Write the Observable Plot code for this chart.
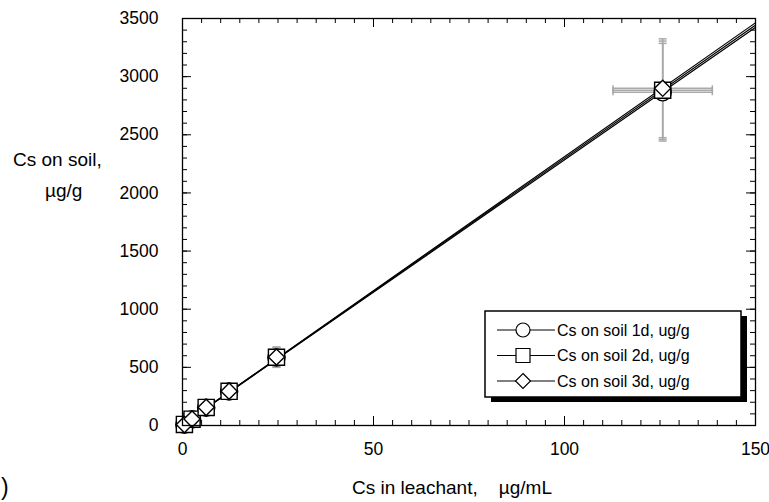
<!DOCTYPE html>
<html>
<head>
<meta charset="utf-8">
<script src="https://cdn.jsdelivr.net/npm/d3@7"></script>
<script src="https://cdn.jsdelivr.net/npm/@observablehq/plot@0.6"></script>
<style>
  html, body { margin: 0; padding: 0; background: #fff; }
  #chart { position: relative; width: 769px; height: 502px; overflow: hidden;
           font-family: "Liberation Sans", Arial, sans-serif; color: #000; }
  #chart svg { display: block; }
  .title { position: absolute; white-space: pre; font-size: 19px; line-height: 1; }
</style>
</head>
<body>
<div id="chart"></div>
<script>
// Cs sorption isotherms: Cs left in the leachant (µg/mL) vs Cs on soil (µg/g)
const seriesNames = ["Cs on soil 1d, ug/g", "Cs on soil 2d, ug/g", "Cs on soil 3d, ug/g"];
const seriesSymbols = ["circle", "square", "diamond2"];

const leachant1 = [0.5, 2.5, 6.2, 12.2, 24.6, 125.7];
const leachant2 = [0.5, 2.5, 6.2, 12.2, 24.6, 125.7];
const leachant3 = [0.5, 2.5, 6.2, 12.2, 24.6, 125.7];

const soil1 = [7, 53, 153, 292, 585, 2866];
const soil2 = [9, 54, 155, 294, 587, 2883];
const soil3 = [8, 55, 156, 295, 589, 2900];

// standard deviations (0 = bar hidden under the marker)
const leachantErr1 = [0, 0, 0, 0, 0, 13];
const leachantErr2 = [0, 0, 0, 0, 0, 13];
const leachantErr3 = [0, 0, 0, 0, 0, 13];
const soilErr1 = [0, 0, 0, 0, 85, 420];
const soilErr2 = [0, 0, 0, 0, 85, 423];
const soilErr3 = [0, 0, 0, 0, 85, 425];

const xDomain = [0, 150];
const yDomain = [0, 3500];
const xTickLabels = [0, 50, 100, 150];
const yTickLabels = [0, 500, 1000, 1500, 2000, 2500, 3000, 3500];
const xMinorStep = 5;
const yMinorStep = 100;

// ---- build tables
const leachant = [leachant1, leachant2, leachant3];
const soil = [soil1, soil2, soil3];
const leachantErr = [leachantErr1, leachantErr2, leachantErr3];
const soilErr = [soilErr1, soilErr2, soilErr3];

const rows = seriesNames.flatMap((name, s) =>
  leachant[s].map((x, i) => ({
    series: name, s, x, y: soil[s][i], ex: leachantErr[s][i], ey: soilErr[s][i]
  })));

// least-squares line for each series, drawn across the whole x range
const fits = seriesNames.flatMap((name, s) => {
  const xs = leachant[s], ys = soil[s];
  const mx = d3.mean(xs), my = d3.mean(ys);
  const b = d3.sum(xs, (x, i) => (x - mx) * (ys[i] - my)) / d3.sum(xs, x => (x - mx) ** 2);
  const a = my - b * mx;
  return xDomain.map(x => ({series: name, x, y: a + b * x}));
});

const xMinor = d3.range(xDomain[0], xDomain[1] + 1e-9, xMinorStep);
const yMinor = d3.range(yDomain[0], yDomain[1] + 1e-9, yMinorStep);

// ---- layout
const width = 769, height = 502;
const margin = {top: 18, right: 14, bottom: 77, left: 182};
const innerW = width - margin.left - margin.right;
const innerH = height - margin.top - margin.bottom;
const minorLen = 5, majorLen = 9;
const errColor = "#a9a9a9";

const hCap = {draw(ctx) { ctx.moveTo(-4, 0); ctx.lineTo(4, 0); }};
const vCap = {draw(ctx) { ctx.moveTo(0, -3); ctx.lineTo(0, 3); }};

const yBars = rows.filter(d => d.ey > 0);
const xBars = rows.filter(d => d.ex > 0);

const plot = Plot.plot({
  width, height,
  marginTop: margin.top, marginRight: margin.right,
  marginBottom: margin.bottom, marginLeft: margin.left,
  style: {fontFamily: '"Liberation Sans", Arial, sans-serif', fontSize: "17.5px", color: "#000", background: "#fff"},
  x: {domain: xDomain, label: null},
  y: {domain: yDomain, label: null},
  marks: [
    // inward tick marks on all four sides
    Plot.tickX(xMinor, {x: d => d, insetTop: innerH - minorLen, stroke: "#000"}),
    Plot.tickX(xMinor, {x: d => d, insetBottom: innerH - minorLen, stroke: "#000"}),
    Plot.tickX(xTickLabels, {x: d => d, insetTop: innerH - majorLen, stroke: "#000"}),
    Plot.tickX(xTickLabels, {x: d => d, insetBottom: innerH - majorLen, stroke: "#000"}),
    Plot.tickY(yMinor, {y: d => d, insetRight: innerW - minorLen, stroke: "#000"}),
    Plot.tickY(yMinor, {y: d => d, insetLeft: innerW - minorLen, stroke: "#000"}),
    Plot.tickY(yTickLabels, {y: d => d, insetRight: innerW - majorLen, stroke: "#000"}),
    Plot.tickY(yTickLabels, {y: d => d, insetLeft: innerW - majorLen, stroke: "#000"}),
    Plot.axisX(xTickLabels, {tickSize: 0, tickPadding: 17, tickFormat: d3.format("d"), label: null}),
    Plot.axisY(yTickLabels, {tickSize: 0, tickPadding: 24, tickFormat: d3.format("d"), label: null}),

    // error bars
    Plot.ruleX(yBars, {x: "x", y1: d => d.y - d.ey, y2: d => d.y + d.ey, stroke: errColor, strokeWidth: 1.5}),
    Plot.ruleY(xBars, {y: "y", x1: d => d.x - d.ex, x2: d => d.x + d.ex, stroke: errColor, strokeWidth: 1.5}),
    Plot.dot(yBars, {x: "x", y: d => d.y + d.ey, symbol: hCap, fill: "none", stroke: errColor, strokeWidth: 1.5}),
    Plot.dot(yBars, {x: "x", y: d => d.y - d.ey, symbol: hCap, fill: "none", stroke: errColor, strokeWidth: 1.5}),
    Plot.dot(xBars, {x: d => d.x + d.ex, y: "y", symbol: vCap, fill: "none", stroke: errColor, strokeWidth: 1.5}),
    Plot.dot(xBars, {x: d => d.x - d.ex, y: "y", symbol: vCap, fill: "none", stroke: errColor, strokeWidth: 1.5}),

    // fitted lines
    Plot.line(fits, {x: "x", y: "y", z: "series", stroke: "#000", strokeWidth: 1.2, clip: true}),

    // markers
    Plot.dot(rows.filter(d => d.s === 0), {x: "x", y: "y", symbol: seriesSymbols[0], r: 8.6, fill: "#fff", stroke: "#000", strokeWidth: 1.4}),
    Plot.dot(rows.filter(d => d.s === 1), {x: "x", y: "y", symbol: seriesSymbols[1], r: 9.1, fill: "#fff", stroke: "#000", strokeWidth: 1.4}),
    Plot.dot(rows.filter(d => d.s === 2), {x: "x", y: "y", symbol: seriesSymbols[2], r: 7.3, fill: "#fff", stroke: "#000", strokeWidth: 1.4}),

    Plot.frame({stroke: "#000", strokeWidth: 1.3})
  ]
});

const chart = document.getElementById("chart");
chart.appendChild(plot);

// axis titles
function addTitle(text, left, top, extra) {
  const el = document.createElement("div");
  el.className = "title";
  el.textContent = text;
  el.style.left = left + "px";
  el.style.top = top + "px";
  if (extra) Object.assign(el.style, extra);
  chart.appendChild(el);
}
addTitle("Cs in leachant,    \u00b5g/mL", 452, 478, {transform: "translateX(-50%)"});
addTitle("Cs on soil,", 13, 150);
addTitle("\u00b5g/g", 45, 181);
addTitle(")", 1, 476, {fontSize: "23px"});

// legend box with drop shadow
const legend = d3.select(chart).append("svg")
  .attr("width", 270).attr("height", 100)
  .style("position", "absolute").style("left", "484px").style("top", "310px")
  .style("overflow", "visible");
legend.append("rect").attr("x", 7).attr("y", 6).attr("width", 256).attr("height", 86).attr("fill", "#000");
legend.append("rect").attr("x", 1).attr("y", 1).attr("width", 256).attr("height", 86)
  .attr("fill", "#fff").attr("stroke", "#000").attr("stroke-width", 1.5);
const entry = legend.selectAll("g.entry").data(seriesNames).join("g")
  .attr("transform", (d, i) => `translate(0,${20 + i * 25.5})`);
entry.append("line").attr("x1", 13).attr("x2", 71).attr("stroke", "#000").attr("stroke-width", 1.1);
entry.append("path")
  .attr("transform", "translate(39,0)")
  .attr("d", (d, i) => i === 0 ? d3.symbol(d3.symbolCircle, Math.PI * 49)()
                      : i === 1 ? d3.symbol(d3.symbolSquare, 196)()
                      : d3.symbol(d3.symbolDiamond2, (7.5 / 0.62625) ** 2)())
  .attr("fill", "#fff").attr("stroke", "#000").attr("stroke-width", 1.2);
entry.append("text").attr("x", 73).attr("dy", "0.35em")
  .attr("font-family", '"Liberation Sans", Arial, sans-serif').attr("font-size", 16)
  .text(d => d);
</script>
</body>
</html>
